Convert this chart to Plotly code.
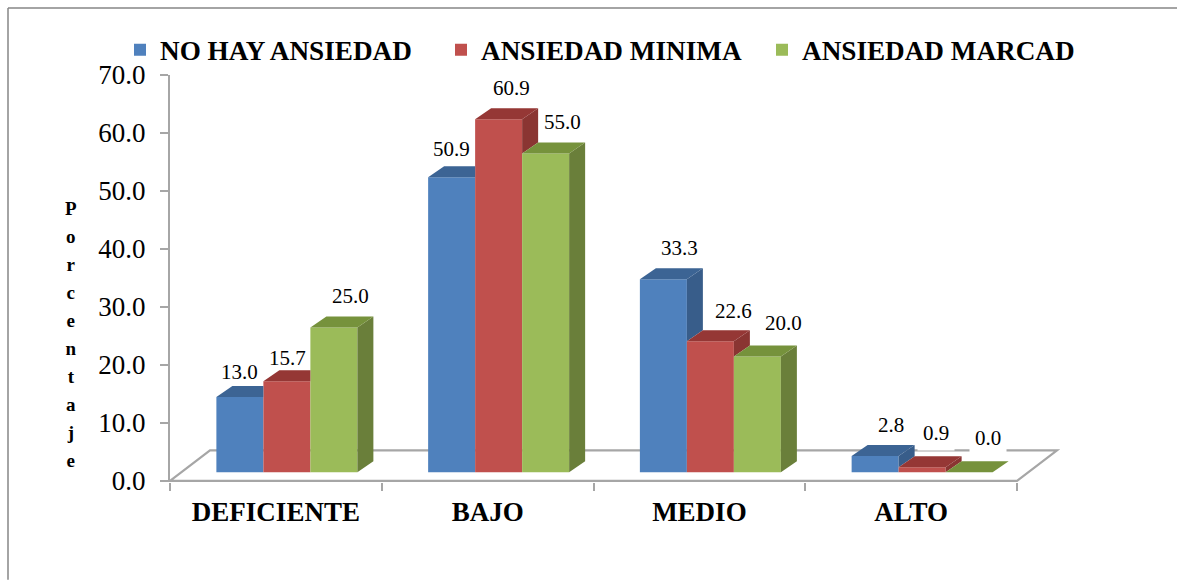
import plotly.graph_objects as go

# ---- data ----
categories = ["DEFICIENTE", "BAJO", "MEDIO", "ALTO"]
no_hay = [13.0, 50.9, 33.3, 2.8]
minima = [15.7, 60.9, 22.6, 0.9]
marcada = [25.0, 55.0, 20.0, 0.0]
series_names = ["NO HAY ANSIEDAD", "ANSIEDAD MINIMA", "ANSIEDAD MARCAD"]
y_title = "Porcentaje"

# ---- style / layout ----
FRONT = ["#4f81bd", "#c0504d", "#9bbb59"]
TOP = ["#3c6494", "#953735", "#76923c"]
SIDE = ["#385d8a", "#8a3532", "#6a7f3a"]
AXIS = "#a6a6a6"
SERIF = "Liberation Serif"
W, H = 1177, 580
L, T, PW = 170, 75, 895
SLOT = 211.75
UNIT = 5.8
PH = 406 + 0.2 * UNIT
BASE = 8.5 / UNIT
DX, DY = 16 / SLOT, 11 / UNIT
BW = 47 / SLOT
SHIFT = 11 / SLOT
FLOOR_X, FLOOR_Y = 40 / SLOT, 30.5 / UNIT
# label nudges in px (dx, dy above the bar's front top), per series then category
LBL = [
    [(0, 25), (0, 28), (16, 31), (16, 31)],
    [(1, 23), (13, 31), (23, 30), (14, 34)],
    [(17, 31), (17, 31), (26, 33), (19, 34)],
]

all_series = [no_hay, minima, marcada]
n = len(categories)
fig = go.Figure()

for j, (name, vals) in enumerate(zip(series_names, all_series)):
    fig.add_trace(go.Bar(
        name=name, x=[i + 0.5 + SHIFT for i in range(n)], y=vals, base=[BASE] * n,
        marker=dict(color=FRONT[j], line=dict(width=0)), hoverinfo="skip",
    ))

for j, vals in enumerate(all_series):
    next_vals = all_series[j + 1] if j < 2 else [0] * n
    sx, sy, tx, ty = [], [], [], []
    for i, v in enumerate(vals):
        cx = i + 0.5 + SHIFT + (j - 1) * BW
        x0, x1 = cx - BW / 2, cx + BW / 2
        h = BASE + v
        hn = BASE + next_vals[i]
        if next_vals[i] < v or j == 2:
            sx += [x1, x1 + DX, x1 + DX, x1, None]
            sy += [min(hn, h), min(hn, h) + DY, h + DY, h, None]
            tx += [x0, x1, x1 + DX, x0 + DX, None]
            ty += [h, h, h + DY, h + DY, None]
        else:
            # the next, taller bar hides everything to the right of x1
            tx += [x0, x1, x1, x0 + DX, None]
            ty += [h, h, h + DY, h + DY, None]
    if sx:
        fig.add_trace(go.Scatter(x=sx, y=sy, mode="none", fill="toself", fillcolor=SIDE[j],
                                 showlegend=False, hoverinfo="skip"))
    fig.add_trace(go.Scatter(x=tx, y=ty, mode="none", fill="toself", fillcolor=TOP[j],
                             showlegend=False, hoverinfo="skip"))

annotations = []
for j, vals in enumerate(all_series):
    for i, v in enumerate(vals):
        dx, dy = LBL[j][i]
        last = i == n - 1
        annotations.append(dict(
            x=i + 0.5 + SHIFT + (j - 1) * BW, y=BASE + v, xref="x", yref="y",
            text=f"{v:.1f}", showarrow=False, xshift=dx, yshift=dy,
            font=dict(family=SERIF, size=21, color="#000"),
            bgcolor="#ffffff" if last and j > 0 else "rgba(0,0,0,0)",
            borderpad=5 if last and j > 0 else 1,
        ))
annotations.append(dict(
    x=(63 - L) / PW, y=(T + PH - 335) / PH, xref="paper", yref="paper", showarrow=False,
    text="<br>".join(f"<span style='font-size:19px'><b>{c}</b></span>" for c in y_title),
    font=dict(family=SERIF, size=21.5, color="#000"), align="center",
))

floor_path = (f"M 0 0 L {FLOOR_X} {FLOOR_Y} L {n + FLOOR_X} {FLOOR_Y} L {n} 0 Z")
shapes = [
    dict(type="path", path=floor_path, xref="x", yref="y", layer="below",
         line=dict(color=AXIS, width=2.2), fillcolor="#ffffff"),
    dict(type="line", xref="paper", yref="paper", x0=(8 - L) / PW, x1=(8 - L) / PW,
         y0=(T + PH - 8) / PH, y1=(T + PH - 580) / PH, line=dict(color="#868686", width=1.5)),
    dict(type="line", xref="paper", yref="paper", x0=(8 - L) / PW, x1=(1177 - L) / PW,
         y0=(T + PH - 8) / PH, y1=(T + PH - 8) / PH, line=dict(color="#868686", width=1.5)),
]

fig.update_layout(
    width=W, height=H, autosize=False,
    margin=dict(l=L, r=W - L - PW, t=T, b=H - T - PH, pad=0),
    paper_bgcolor="#ffffff", plot_bgcolor="rgba(0,0,0,0)",
    barmode="group", bargap=1 - 3 * BW, bargroupgap=0,
    font=dict(family=SERIF, color="#000"),
    showlegend=True,
    legend=dict(orientation="h", x=(120 - L) / PW, xanchor="left",
                y=(T + PH - 50) / PH, yanchor="middle",
                entrywidth=276, entrywidthmode="pixels", traceorder="normal",
                font=dict(family=SERIF, size=27.2, color="#000", weight="bold"),
                bgcolor="rgba(0,0,0,0)"),
    xaxis=dict(range=[0, PW / SLOT], showgrid=False, zeroline=False, showline=False,
               tickmode="array", tickvals=[i + 0.5 for i in range(n)], ticktext=categories,
               ticks="", ticklabelstandoff=11,
               tickfont=dict(family=SERIF, size=27, color="#000", weight="bold"),
               minor=dict(tickmode="array", tickvals=list(range(n + 1)), ticks="outside",
                          ticklen=8, tickwidth=2, tickcolor=AXIS, showgrid=False)),
    yaxis=dict(range=[-0.2, 70], showgrid=False, zeroline=False, showline=True,
               linecolor=AXIS, linewidth=2, tickmode="array",
               tickvals=[0, 10, 20, 30, 40, 50, 60, 70],
               ticktext=[f"{v:.1f}" for v in [0, 10, 20, 30, 40, 50, 60, 70]],
               ticks="outside", ticklen=8, tickwidth=2, tickcolor=AXIS,
               ticklabelstandoff=9,
               tickfont=dict(family=SERIF, size=27, color="#000")),
    annotations=annotations, shapes=shapes,
)

fig.write_html("out.html", config={"displayModeBar": False},
               post_script="document.body.style.margin='0';document.documentElement.style.overflow='hidden';")
